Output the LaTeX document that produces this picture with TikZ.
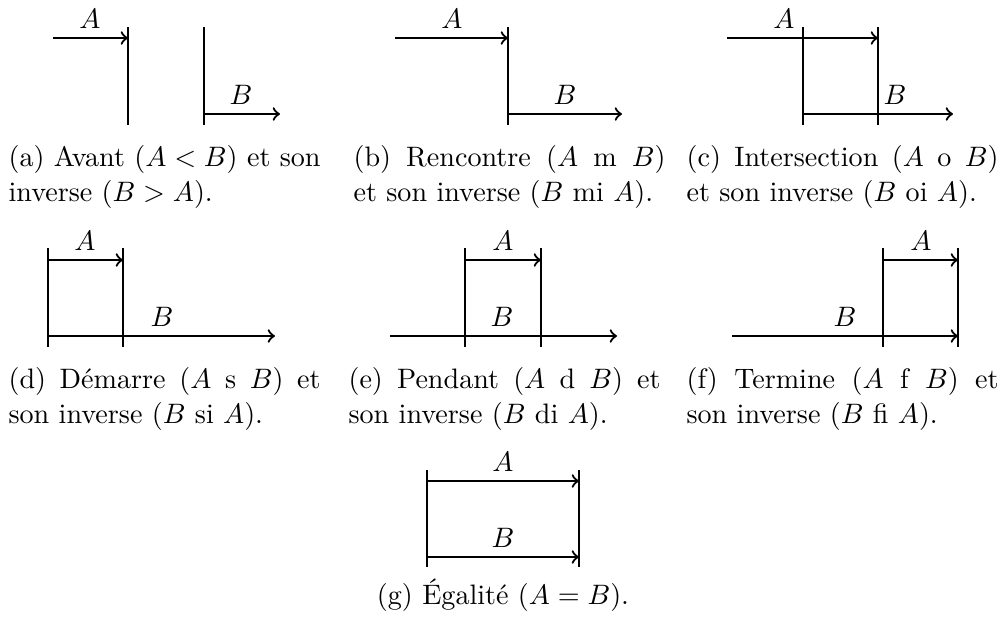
\documentclass[tikz,border=0pt]{standalone}
\usepackage{fontspec}
\usepackage{amsmath}
\usetikzlibrary{positioning}
\tikzset{
  >=to,
  interval/.style={->, thick},
  bound/.style={line width=0.4pt},
  lab/.style={above, inner sep=3.33pt},
  subcap/.style={anchor=north west, inner sep=0pt, text width=3.9cm, align=justify,
    font=\fontsize{10pt}{12.4pt}\selectfont}
}
\begin{document}
\begin{tikzpicture}[x=0.0125cm, y=-0.0125cm]
  \useasboundingbox (0,0) rectangle (1000,621);
  % (a) avant
  \draw[bound] (128,27) -- (128,125);
  \draw[bound] (204,27) -- (204,125);
  \draw[interval] (53,38) -- (128,38);
  \draw[interval] (204,114) -- (280,114);
  \node[lab] (aA) at (90,38) {$A$};
  \node[lab] (aB) at (241,114) {$B$};
  \node[subcap] (capa) at (8,145) {(a) Avant ($A < B$) et son\linebreak inverse ($B > A$).};
  % (b) rencontre
  \draw[bound] (508,27) -- (508,125);
  \draw[interval] (395,38) -- (508,38);
  \draw[interval] (508,114) -- (622,114);
  \node[lab] (bA) at (452,38) {$A$};
  \node[lab] (bB) at (565,114) {$B$};
  \node[subcap] (capb) at (353,145) {(b) Rencontre ($A$ m $B$)\linebreak et son inverse ($B$ mi $A$).};
  % (c) intersection
  \draw[bound] (803,27) -- (803,125);
  \draw[bound] (878,27) -- (878,125);
  \draw[interval] (727,38) -- (878,38);
  \draw[interval] (803,114) -- (953,114);
  \node[lab] (cA) at (784,38) {$A$};
  \node[lab] (cB) at (895,114) {$B$};
  \node[subcap] (capc) at (686,145) {(c) Intersection ($A$ o $B$)\linebreak et son inverse ($B$ oi $A$).};
  % (d) demarre
  \draw[bound] (48,248) -- (48,347);
  \draw[bound] (123,248) -- (123,347);
  \draw[interval] (48,260) -- (123,260);
  \draw[interval] (48,336) -- (275,336);
  \node[lab] (dA) at (85,260) {$A$};
  \node[lab] (dB) at (162,336) {$B$};
  \node[subcap] (capd) at (8,367) {(d) Démarre ($A$ s $B$) et\linebreak son inverse ($B$ si $A$).};
  % (e) pendant
  \draw[bound] (465,248) -- (465,347);
  \draw[bound] (541,248) -- (541,347);
  \draw[interval] (465,260) -- (541,260);
  \draw[interval] (390,336) -- (617,336);
  \node[lab] (eA) at (503,260) {$A$};
  \node[lab] (eB) at (502,336) {$B$};
  \node[subcap] (cape) at (348,367) {(e) Pendant ($A$ d $B$) et\linebreak son inverse ($B$ di $A$).};
  % (f) termine
  \draw[bound] (883,248) -- (883,347);
  \draw[bound] (958,248) -- (958,347);
  \draw[interval] (883,260) -- (958,260);
  \draw[interval] (732,336) -- (958,336);
  \node[lab] (fA) at (921,260) {$A$};
  \node[lab] (fB) at (845,336) {$B$};
  \node[subcap] (capf) at (686,367) {(f) Termine ($A$ f $B$) et\linebreak son inverse ($B$ fi $A$).};
  % (g) egalite
  \draw[bound] (427,470) -- (427,567);
  \draw[bound] (579,470) -- (579,567);
  \draw[interval] (427,481) -- (579,481);
  \draw[interval] (427,557) -- (579,557);
  \node[lab] (gA) at (503,481) {$A$};
  \node[lab] (gB) at (503,557) {$B$};
  \node[anchor=base, inner sep=0pt] (capg) at (503,604) {(g) Égalité ($A = B$).};
\end{tikzpicture}
\end{document}
